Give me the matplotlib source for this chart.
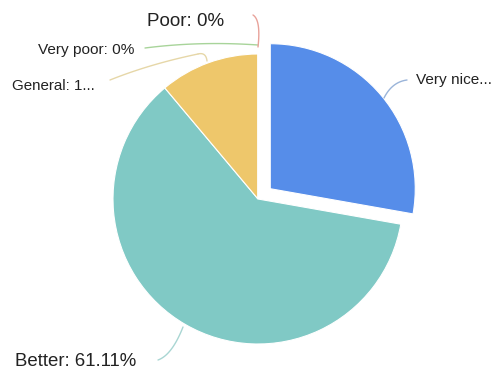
import matplotlib
matplotlib.use("Agg")
import matplotlib.pyplot as plt
import numpy as np

categories = ["Very nice", "Better", "General", "Very poor", "Poor"]
values = [27.78, 61.11, 11.11, 0, 0]
labels = ["Very nice...", "Better: 61.11%", "General: 1...", "Very poor: 0%", "Poor: 0%"]
colors = ["#568DE9", "#80C9C5", "#EEC76B", "#9BCB8A", "#E8A29A"]

W, H = 495, 375
fig = plt.figure(figsize=(W / 100, H / 100), dpi=100)
ax = fig.add_axes([0, 0, 1, 1])
ax.set_xlim(0, W)
ax.set_ylim(0, H)
ax.set_aspect("equal")
ax.axis("off")

cx, cy, r = 258, H - 199, 145
explode = [16, 0, 0, 0, 0]
ax.pie(values, colors=colors, startangle=90, counterclock=False,
       center=(cx, cy), radius=r, explode=explode,
       wedgeprops=dict(edgecolor="white", linewidth=0.8))
ax.set_xlim(0, W)
ax.set_ylim(0, H)

font = ["Liberation Sans", "DejaVu Sans"]

def Y(y):
    return H - y

def bez(p0, p1, p2, n=30):
    t = np.linspace(0, 1, n)[:, None]
    p0, p1, p2 = map(np.array, (p0, p1, p2))
    return (1 - t) ** 2 * p0 + 2 * (1 - t) * t * p1 + t ** 2 * p2

# (label index, curve segments (quadratic bezier control points, pixel coords), text pos, fontsize, line color)
ann = [
    (0, [((384, 98), (392, 82), (407, 80))], (416, 80), 11.1, "#9AB4D9"),
    (1, [((183, 327), (172, 355), (158, 360))], (15, 362), 13.4, "#A9D6D3"),
    (2, [((207, 61), (206, 52), (198, 54)), ((198, 54), (150, 64), (110, 80))], (12, 86), 10.9, "#E6D7A8"),
    (3, [((258, 45), (200, 41), (145, 48))], (38, 50), 11.1, "#A8D49A"),
    (4, [((258, 47), (261, 20), (253, 15))], (147, 22), 13.5, "#E8A29A"),
]
for i, segs, tpos, fs, lc in ann:
    for s in segs:
        pts = bez(*s)
        ax.plot(pts[:, 0], H - pts[:, 1], color=lc, lw=1.0, solid_capstyle="round")
    ax.text(tpos[0], Y(tpos[1]), labels[i], fontsize=fs, family=font,
            ha="left", va="center", color="#222222")

fig.savefig("out.png", dpi=100)
